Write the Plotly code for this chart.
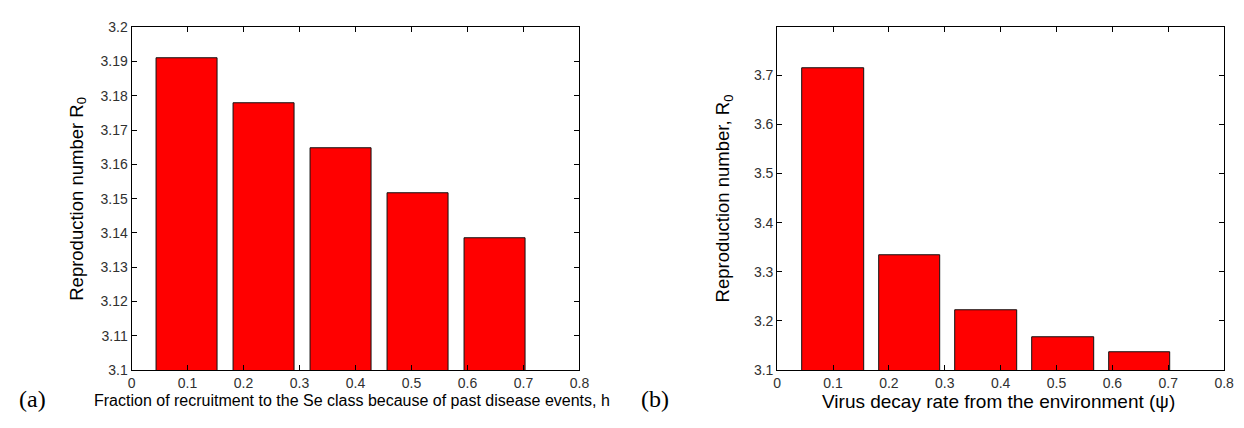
import plotly.graph_objects as go

# data
x_a = [0.099, 0.237, 0.374, 0.512, 0.649]
r0_a = [3.1909, 3.1778, 3.1646, 3.1515, 3.1383]
x_b = [0.100, 0.237, 0.374, 0.512, 0.649]
r0_b = [3.715, 3.3346, 3.2222, 3.1673, 3.1366]
xticks = [0, 0.1, 0.2, 0.3, 0.4, 0.5, 0.6, 0.7, 0.8]
yticks_a = [3.1, 3.11, 3.12, 3.13, 3.14, 3.15, 3.16, 3.17, 3.18, 3.19, 3.2]
yticks_b = [3.1, 3.2, 3.3, 3.4, 3.5, 3.6, 3.7]

W, H = 1244, 428
fig = go.Figure()
bar_style = dict(marker=dict(color="#ff0000", line=dict(color="#111111", width=1)),
                 width=0.11, showlegend=False)
fig.add_trace(go.Bar(x=x_a, y=r0_a, xaxis="x", yaxis="y", **bar_style))
fig.add_trace(go.Bar(x=x_b, y=r0_b, xaxis="x2", yaxis="y2", **bar_style))

tickfont = dict(family="Liberation Sans, Arial", size=14, color="#303030")
ax_common = dict(showgrid=False, zeroline=False, showline=True, linecolor="black", linewidth=1,
                 mirror="ticks", ticks="inside", ticklen=5, tickcolor="black", tickfont=tickfont)
ydom = [(H - 376) / H, (H - 20) / H]
fig.update_layout(
    width=W, height=H, margin=dict(l=0, r=0, t=0, b=0),
    paper_bgcolor="white", plot_bgcolor="white", bargap=0,
    xaxis=dict(domain=[129 / W, 582 / W], range=[0, 0.8], tickvals=xticks,
               ticktext=[f"{v:g}" for v in xticks], anchor="y", **ax_common),
    yaxis=dict(domain=ydom, range=[3.1, 3.2], tickvals=yticks_a,
               ticktext=[f"{v:g}" for v in yticks_a], anchor="x", **ax_common),
    xaxis2=dict(domain=[782 / W, 1234 / W], range=[0, 0.8], tickvals=xticks,
                ticktext=[f"{v:g}" for v in xticks], anchor="y2", **ax_common),
    yaxis2=dict(domain=ydom, range=[3.1, 3.798], tickvals=yticks_b,
                ticktext=[f"{v:g}" for v in yticks_b], anchor="x2", **ax_common),
)

lab = dict(family="Liberation Sans, Arial", color="black")
annots = [
    dict(text="Fraction of recruitment to the Se class because of past disease events, h",
         x=352 / W, y=1 - 408 / H, font=dict(size=16, **lab)),
    dict(text="Virus decay rate from the environment (ψ)",
         x=1006 / W, y=1 - 409 / H, font=dict(size=19, **lab)),
    dict(text="Reproduction number R<sub>0</sub>", x=74 / W, y=1 - 198 / H, textangle=-90,
         font=dict(size=18.5, **lab)),
    dict(text="Reproduction number, R<sub>0</sub>", x=728 / W, y=1 - 198 / H, textangle=-90,
         font=dict(size=18.5, **lab)),
    dict(text="(a)", x=29 / W, y=1 - 406 / H,
         font=dict(family="Liberation Serif, serif", size=24, color="black")),
    dict(text="(b)", x=658 / W, y=1 - 406 / H,
         font=dict(family="Liberation Serif, serif", size=24, color="black")),
]
for a in annots:
    fig.add_annotation(xref="paper", yref="paper", showarrow=False,
                       xanchor="center", yanchor="middle", **a)

fig.write_html("out.html", config={"displayModeBar": False},
               post_script="document.body.style.margin='0';document.body.style.overflow='hidden';")
